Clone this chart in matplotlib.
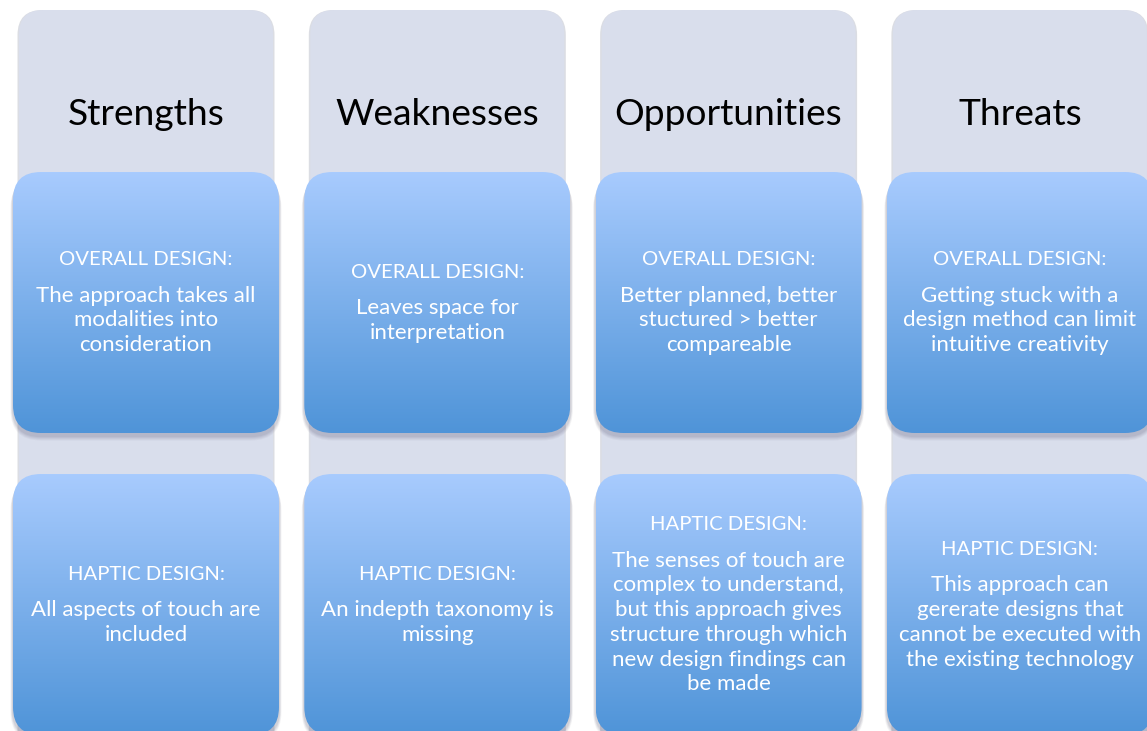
import matplotlib
matplotlib.use("Agg")
import matplotlib.pyplot as plt
from matplotlib.patches import FancyBboxPatch
import numpy as np

categories = ["Strengths", "Weaknesses", "Opportunities", "Threats"]
top_header = ["OVERALL DESIGN:"] * 4
top_body = [
    ["The approach takes all", "modalities into", "consideration"],
    ["Leaves space for", "interpretation"],
    ["Better planned, better", "stuctured > better", "compareable"],
    ["Getting stuck with a", "design method can limit", "intuitive creativity"],
]
bottom_header = ["HAPTIC DESIGN:"] * 4
bottom_body = [
    ["All aspects of touch are", "included"],
    ["An indepth taxonomy is", "missing"],
    ["The senses of touch are", "complex to understand,", "but this approach gives",
     "structure through which", "new design findings can", "be made"],
    ["This approach can", "gererate designs that", "cannot be executed with",
     "the existing technology"],
]

W, H = 1147, 731
fig = plt.figure(figsize=(W / 100, H / 100), dpi=100)
ax = fig.add_axes([0, 0, 1, 1])
ax.set_xlim(0, W)
ax.set_ylim(H, 0)
ax.axis("off")

FONT = "Lato"
col_pitch = 291.3
col0 = 146
bg_w, bg_r = 254, 24
box_w, box_h, box_r = 266, 261, 28
bg_color = "#D9DEEC"
top_c = np.array([0xA8, 0xCB, 0xFE]) / 255
bot_c = np.array([0x4F, 0x94, 0xD8]) / 255
grad = np.linspace(0, 1, 256)[:, None, None]
grad_img = top_c * (1 - grad) + bot_c * grad
grad_img = np.repeat(grad_img, 2, axis=1)


def rbox(x, y, w, h, r, **kw):
    p = FancyBboxPatch((x + r, y + r), w - 2 * r, h - 2 * r,
                       boxstyle=f"round,pad={r}", **kw)
    ax.add_patch(p)
    return p


def blue_box(cx, cy, header, body):
    x0, y0 = cx - box_w / 2, cy - box_h / 2
    # shadow
    for i, a in enumerate([0.05, 0.06, 0.07, 0.08]):
        d = 5 - i
        rbox(x0 - d * 0.5, y0 + 2 + d * 0.7, box_w + d, box_h + d * 0.4, box_r + d * 0.5,
             facecolor="#404060", edgecolor="none", alpha=a, zorder=2)
    p = rbox(x0, y0, box_w, box_h, box_r, facecolor="none", edgecolor="none", zorder=3)
    im = ax.imshow(grad_img, extent=(x0, x0 + box_w, y0 + box_h, y0),
                   aspect="auto", zorder=3, interpolation="bilinear")
    im.set_clip_path(p)
    gap_h, lh = 36, 24.7
    total = gap_h + lh * (len(body) - 1)
    y = cy - total / 2
    ax.text(cx, y, header, color="white", fontsize=14.6, family=FONT,
            ha="center", va="center", zorder=5)
    y += gap_h
    for line in body:
        ax.text(cx, y, line, color="white", fontsize=16, family=FONT,
                ha="center", va="center", zorder=5)
        y += lh


for i, cat in enumerate(categories):
    cx = col0 + i * col_pitch
    # background panel shadow
    rbox(cx - bg_w / 2 - 1.5, 10, bg_w + 3, 800, bg_r + 1,
         facecolor="#B8BCC8", edgecolor="none", alpha=0.5, zorder=1)
    rbox(cx - bg_w / 2, 10, bg_w, 800, bg_r,
         facecolor=bg_color, edgecolor="none", zorder=1.5)
    ax.text(cx, 125, cat, color="black", fontsize=26.7, family=FONT,
            ha="center", va="baseline", zorder=5)
    blue_box(cx, 302.5, top_header[i], top_body[i])
    blue_box(cx, 604.5, bottom_header[i], bottom_body[i])

fig.savefig("out.png", dpi=100)
